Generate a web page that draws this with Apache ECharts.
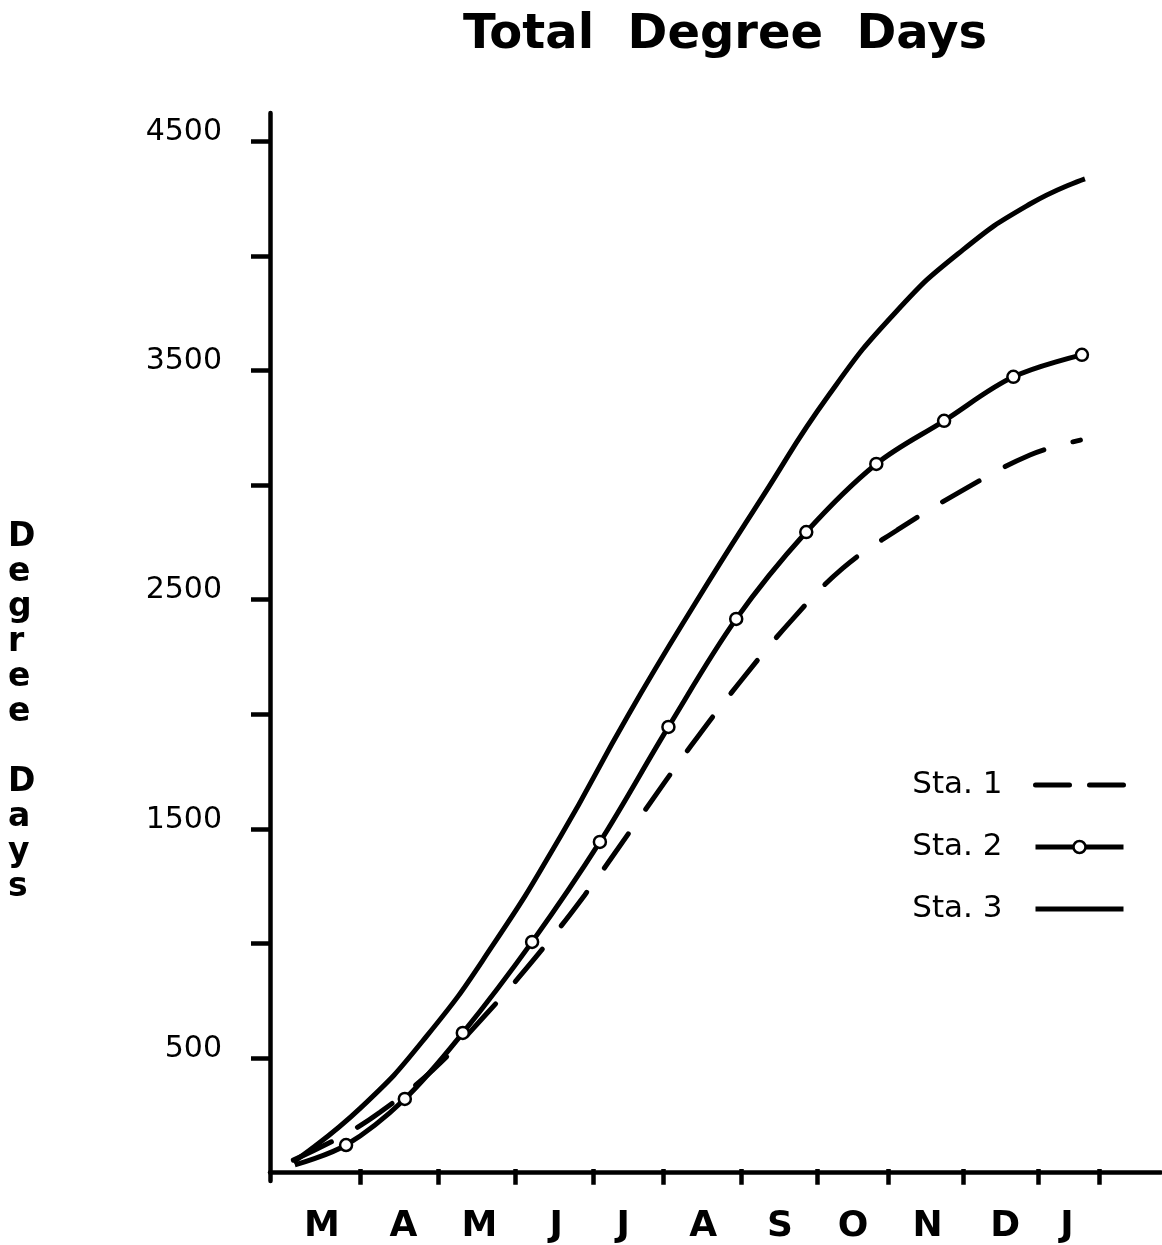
<!DOCTYPE html>
<html>
<head>
<meta charset="utf-8">
<script src="https://cdn.jsdelivr.net/npm/echarts@6/dist/echarts.min.js"></script>
<style>
  html, body { margin: 0; padding: 0; background: #fff; }
  #main { width: 1162px; height: 1245px; }
</style>
</head>
<body>
<div id="main"></div>
<script>
// x in "month units" from the start of the axis (hand drawn, so months are uneven)
var monthTicks = [1.2, 2.23, 3.25, 4.29, 5.22, 6.26, 7.26, 8.21, 9.2, 10.2, 11.01];
var monthLabelPos = [0.69, 1.77, 2.78, 3.8, 4.69, 5.75, 6.77, 7.74, 8.73, 9.76, 10.58];
var monthLabels = ['M', 'A', 'M', 'J', 'J', 'A', 'S', 'O', 'N', 'D', 'J'];

var yTicks = [500, 1000, 1500, 2000, 2500, 3000, 3500, 4000, 4500];
var yLabels = [500, 1500, 2500, 3500, 4500];

// Sta. 1 (dashed)
var sta1X = [0.31, 0.93, 1.46, 2.16, 2.86, 3.52, 4.18, 4.87, 5.58, 6.24, 6.93, 7.61, 8.33, 9.16, 10.09, 10.76];
var sta1Y = [55, 155, 264, 448, 688, 937, 1212, 1531, 1858, 2141, 2412, 2639, 2804, 2970, 3131, 3196];

// Sta. 2 (circles)
var sta2X = [0.33, 1.01, 1.79, 2.56, 3.48, 4.38, 5.29, 6.19, 7.12, 8.05, 8.95, 9.87, 10.78];
var sta2Y = [34, 121, 322, 610, 1007, 1443, 1945, 2416, 2795, 3092, 3280, 3472, 3568];

// Sta. 3 (solid)
var sta3X = [0.31, 1.2, 2.08, 2.97, 3.86, 4.75, 5.64, 6.53, 7.42, 8.31, 9.2, 10.09, 10.82];
var sta3Y = [47, 282, 596, 998, 1469, 1993, 2481, 2944, 3393, 3755, 4026, 4226, 4336];

function zip(xs, ys) {
  return xs.map(function (x, i) { return [x, ys[i]]; });
}

var FONT = 'DejaVu Sans';
var chart = echarts.init(document.getElementById('main'));

var xCommon = {
  type: 'value',
  min: 0,
  max: 11.83,
  splitLine: { show: false }
};

chart.setOption({
  backgroundColor: '#fff',
  animation: false,
  title: {
    text: 'Total  Degree  Days',
    left: 458,
    top: 7,
    textStyle: { fontFamily: FONT, fontSize: 48, fontWeight: 'bold', color: '#000' }
  },
  graphic: [{
    type: 'text',
    left: 8,
    top: 520,
    style: {
      text: 'D\ne\ng\nr\ne\ne\n\nD\na\ny\ns',
      font: 'bold 33px "DejaVu Sans"',
      lineHeight: 35,
      align: 'center',
      fill: '#000'
    }
  }],
  legend: {
    orient: 'vertical',
    align: 'right',
    right: 36,
    top: 765,
    padding: 0,
    itemWidth: 88,
    itemHeight: 15,
    itemGap: 22,
    lineStyle: { width: 5, color: '#000' },
    textStyle: { fontFamily: FONT, fontSize: 31, color: '#000', lineHeight: 40, padding: [0, 28, 0, 0] },
    data: [
      { name: 'Sta. 1', lineStyle: { type: [34, 20], width: 5 }, itemStyle: { opacity: 0 } },
      { name: 'Sta. 2', itemStyle: { color: '#fff', borderColor: '#000', borderWidth: 2.5 } },
      { name: 'Sta. 3', lineStyle: { type: 'solid', width: 5 }, itemStyle: { opacity: 0 } }
    ]
  },
  grid: { left: 270, right: 1, top: 113, bottom: 64 },
  xAxis: [
    Object.assign({}, xCommon, {
      position: 'bottom',
      axisLine: { show: true, lineStyle: { color: '#000', width: 4.5 } },
      axisTick: { show: true, customValues: monthTicks, length: 12, lineStyle: { color: '#000', width: 4.5 } },
      axisLabel: {
        customValues: monthLabelPos,
        margin: 28,
        fontFamily: FONT,
        fontSize: 36,
        fontWeight: 'bold',
        color: '#000',
        formatter: function (v) {
          var i = monthLabelPos.indexOf(v);
          return i >= 0 ? monthLabels[i] : '';
        }
      }
    }),
    Object.assign({}, xCommon, {
      position: 'bottom',
      axisLine: { show: false },
      axisTick: { show: true, inside: true, customValues: monthTicks, length: 12, lineStyle: { color: '#000', width: 4.5 } },
      axisLabel: { show: false }
    })
  ],
  yAxis: {
    type: 'value',
    min: -36,
    max: 4623,
    splitLine: { show: false },
    axisLine: { show: true, lineStyle: { color: '#000', width: 4.5 } },
    axisTick: { show: true, customValues: yTicks, length: 19, lineStyle: { color: '#000', width: 4.5 } },
    axisLabel: {
      customValues: yLabels,
      margin: 48,
      fontFamily: FONT,
      fontSize: 30,
      color: '#000',
      verticalAlign: 'bottom',
      lineHeight: 18,
      formatter: function (v) { return String(v); }
    }
  },
  series: [{
    name: 'Sta. 1',
    type: 'line',
    smooth: 0.4,
    symbol: 'none',
    data: zip(sta1X, sta1Y),
    lineStyle: { color: '#000', width: 5, type: [42, 30], cap: 'round' },
    itemStyle: { color: '#000' }
  }, {
    name: 'Sta. 2',
    type: 'line',
    smooth: 0.35,
    symbol: function (v, p) { return p.dataIndex === 0 ? 'none' : 'circle'; },
    symbolSize: 12,
    data: zip(sta2X, sta2Y),
    lineStyle: { color: '#000', width: 5 },
    itemStyle: { color: '#fff', borderColor: '#000', borderWidth: 2.5 }
  }, {
    name: 'Sta. 3',
    type: 'line',
    smooth: 0.5,
    symbol: 'none',
    data: zip(sta3X, sta3Y),
    lineStyle: { color: '#000', width: 5 },
    itemStyle: { color: '#000' }
  }]
});
</script>
</body>
</html>
